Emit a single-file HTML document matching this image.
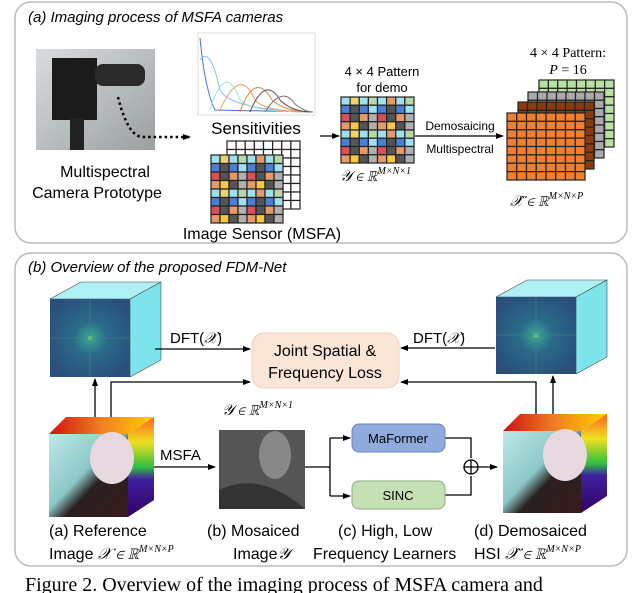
<!DOCTYPE html>
<html><head><meta charset="utf-8">
<style>
body{margin:0;background:#fff;}
svg{display:block;font-family:"Liberation Sans",sans-serif;}
.s{font-family:"Liberation Serif",serif;}
</style></head>
<body>
<svg id="g" width="640" height="593" viewBox="0 0 640 593" xmlns="http://www.w3.org/2000/svg">
<defs>
<marker id="ah" markerWidth="8" markerHeight="8" refX="7" refY="4" orient="auto" markerUnits="userSpaceOnUse"><path d="M0,1 L8,4 L0,7 z" fill="#000"/></marker>
<radialGradient id="fft" cx="50%" cy="50%" r="60%"><stop offset="0" stop-color="#d8f060"/><stop offset="0.06" stop-color="#3aa090"/><stop offset="0.35" stop-color="#2a6a8a"/><stop offset="1" stop-color="#2a4f7a"/></radialGradient>
<linearGradient id="photo" x1="0" y1="0" x2="1" y2="1"><stop offset="0" stop-color="#bfe8e8"/><stop offset="0.45" stop-color="#8cc8c8"/><stop offset="0.6" stop-color="#2a2020"/><stop offset="1" stop-color="#3a1a1a"/></linearGradient>
<linearGradient id="topf" x1="0" y1="0" x2="1" y2="0"><stop offset="0" stop-color="#d01010"/><stop offset="0.5" stop-color="#f08020"/><stop offset="1" stop-color="#ffd000"/></linearGradient>
<linearGradient id="side" x1="0" y1="0" x2="0" y2="1"><stop offset="0" stop-color="#ff6020"/><stop offset="0.25" stop-color="#f0e020"/><stop offset="0.5" stop-color="#30c040"/><stop offset="0.62" stop-color="#4020a0"/><stop offset="1" stop-color="#300060"/></linearGradient>
<linearGradient id="cam" x1="0" y1="0" x2="1" y2="1"><stop offset="0" stop-color="#d8dde0"/><stop offset="1" stop-color="#9aa0a0"/></linearGradient>
</defs>

<!-- Panel a -->
<rect x="15" y="2" width="612" height="241" rx="16" fill="#fff" stroke="#bbb" stroke-width="1.5"/>
<text x="28" y="22" font-size="15" font-style="italic">(a) Imaging process of MSFA cameras</text>
<rect x="36" y="49" width="119" height="101" fill="url(#cam)"/>
<rect x="52" y="58" width="45" height="62" fill="#1a1a1a"/>
<rect x="95" y="64" width="50" height="22" rx="8" fill="#2a2a2a"/>
<rect x="70" y="118" width="14" height="32" fill="#222"/>
<path d="M118,97 Q128,137 143,137 L190,137" fill="none" stroke="#000" stroke-width="2.5" stroke-dasharray="2.5,3" marker-end="url(#ah)"/>
<text x="105" y="177" font-size="16" text-anchor="middle">Multispectral</text>
<text x="97" y="198" font-size="16" text-anchor="middle">Camera Prototype</text>
<rect x="198" y="33" width="117" height="82" fill="#fff" stroke="#ddd"/>
<g fill="none" stroke-width="1">
<path d="M200,38 Q205,90 215,110 L313,112" stroke="#4a70d0"/>
<path d="M200,60 Q210,45 220,90 Q230,110 313,112" stroke="#80c0f0"/>
<path d="M210,110 Q225,60 240,100 Q250,112 313,112" stroke="#a0e0e0"/>
<path d="M220,110 Q240,65 255,100 Q265,112 313,112" stroke="#f0a060"/>
<path d="M240,112 Q255,70 272,100 Q285,112 313,112" stroke="#e08040"/>
<path d="M250,112 Q265,75 280,100 Q292,112 313,112" stroke="#555"/>
<path d="M265,112 Q282,85 295,104 Q305,112 313,112" stroke="#777"/>
</g>
<text x="256" y="134" font-size="17" text-anchor="middle">Sensitivities</text>
<g id="sensor"></g>
<text x="262" y="239" font-size="16" text-anchor="middle">Image Sensor (MSFA)</text>
<line x1="320" y1="136" x2="339" y2="136" stroke="#000" stroke-width="1.3" marker-end="url(#ah)"/>
<text x="382" y="76" font-size="13" text-anchor="middle">4 × 4 Pattern</text>
<text x="382" y="92" font-size="13" text-anchor="middle">for demo</text>
<g id="pat"></g>
<text x="340" y="181" class="s" font-size="15" font-style="italic">𝒴 ∈ ℝ<tspan font-size="10" dy="-7">M×N×1</tspan></text>
<line x1="415" y1="136" x2="503" y2="136" stroke="#000" stroke-width="1.3" marker-end="url(#ah)"/>
<text x="460" y="130" font-size="12" text-anchor="middle">Demosaicing</text>
<text x="460" y="153" font-size="12" text-anchor="middle">Multispectral</text>
<text x="568" y="57" class="s" font-size="14" text-anchor="middle">4 × 4 Pattern:</text>
<text x="568" y="74" class="s" font-size="14" text-anchor="middle"><tspan font-style="italic">P</tspan> = 16</text>
<g id="stack"></g>
<text x="510" y="206" class="s" font-size="15" font-style="italic">𝒳̂ ∈ ℝ<tspan font-size="10" dy="-7">M×N×P</tspan></text>

<!-- Panel b -->
<rect x="15" y="253" width="612" height="313" rx="16" fill="#fff" stroke="#bbb" stroke-width="1.5"/>
<text x="28" y="272" font-size="15" font-style="italic">(b) Overview of the proposed FDM-Net</text>
<polygon points="50,299 81,282 161,282 130,299" fill="#aef0f4" stroke="#444" stroke-width="0.6"/>
<polygon points="130,299 161,282 161,360 130,377" fill="#7ee4ec" stroke="#444" stroke-width="0.6"/>
<rect x="50" y="299" width="80" height="78" fill="url(#fft)"/>
<line x1="90" y1="299" x2="90" y2="377" stroke="#3a8a8a" stroke-width="0.6"/><line x1="50" y1="338" x2="130" y2="338" stroke="#3a8a8a" stroke-width="0.6"/>
<polygon points="496,297 527,280 607,280 576,297" fill="#aef0f4" stroke="#444" stroke-width="0.6"/>
<polygon points="576,297 607,280 607,357 576,374" fill="#7ee4ec" stroke="#444" stroke-width="0.6"/>
<rect x="496" y="297" width="80" height="77" fill="url(#fft)"/>
<line x1="536" y1="297" x2="536" y2="374" stroke="#3a8a8a" stroke-width="0.6"/><line x1="496" y1="335" x2="576" y2="335" stroke="#3a8a8a" stroke-width="0.6"/>

<rect x="252" y="333" width="147" height="55" rx="12" fill="#fbe5d6" stroke="#f0d0c0"/>
<text x="325" y="356" font-size="16" text-anchor="middle">Joint Spatial &amp;</text>
<text x="325" y="378" font-size="16" text-anchor="middle">Frequency Loss</text>
<g stroke="#000" stroke-width="1.3" fill="none">
<line x1="155" y1="349" x2="250" y2="349" marker-end="url(#ah)"/>
<line x1="495" y1="348" x2="401" y2="348" marker-end="url(#ah)"/>
<polyline points="111,417 111,382 250,382" marker-end="url(#ah)"/>
<polyline points="536,414 536,382 401,382" marker-end="url(#ah)"/>
<line x1="95" y1="417" x2="95" y2="379" marker-end="url(#ah)"/>
<line x1="553" y1="414" x2="553" y2="376" marker-end="url(#ah)"/>
<line x1="154" y1="467" x2="215" y2="467" marker-end="url(#ah)"/>
<polyline points="305,467 330,467"/>
<line x1="330" y1="438" x2="330" y2="496"/>
<line x1="330" y1="438" x2="350" y2="438" marker-end="url(#ah)"/>
<line x1="330" y1="496" x2="350" y2="496" marker-end="url(#ah)"/>
<polyline points="445,438 471,438 471,458"/>
<polyline points="445,495 471,495 471,476"/>
<circle cx="471" cy="467" r="7"/>
<line x1="464" y1="467" x2="478" y2="467"/><line x1="471" y1="460" x2="471" y2="474"/>
<line x1="478" y1="467" x2="497" y2="467" marker-end="url(#ah)"/>
</g>
<text x="170" y="343" font-size="15">DFT(<tspan class="s" font-style="italic">𝒳</tspan>)</text>
<text x="413" y="343" font-size="15">DFT(<tspan class="s" font-style="italic">𝒳</tspan>)</text>
<text x="160" y="460" font-size="15">MSFA</text>
<polygon points="49,434 66,417 154,417 128,434" fill="url(#topf)"/>
<polygon points="128,434 154,417 154,500 128,517" fill="url(#side)"/>
<rect x="49" y="434" width="79" height="83" fill="url(#photo)"/>
<ellipse cx="112" cy="458" rx="22" ry="26" fill="#e8d8e0"/>
<polygon points="503,431 520,414 607,414 581,431" fill="url(#topf)"/>
<polygon points="581,431 607,414 607,496 581,513" fill="url(#side)"/>
<rect x="503" y="431" width="78" height="82" fill="url(#photo)"/>
<ellipse cx="565" cy="455" rx="22" ry="26" fill="#e8d8e0"/>
<rect x="219" y="430" width="86" height="79" fill="#555"/>
<ellipse cx="275" cy="455" rx="16" ry="24" fill="#888"/>
<path d="M219,509 L219,490 Q260,470 305,509z" fill="#333"/>
<text x="222" y="415" class="s" font-size="15" font-style="italic">𝒴 ∈ ℝ<tspan font-size="10" dy="-7">M×N×1</tspan></text>
<rect x="352" y="424" width="93" height="28" rx="7" fill="#8faadc" stroke="#6a86b8"/>
<text x="398" y="443" font-size="13" text-anchor="middle">MaFormer</text>
<rect x="352" y="481" width="93" height="28" rx="7" fill="#c5e0b4" stroke="#8aae7a"/>
<text x="398" y="500" font-size="13" text-anchor="middle">SINC</text>
<g font-size="16">
<text x="49" y="536">(a) Reference</text>
<text x="207" y="536">(b) Mosaiced</text>
<text x="338" y="536">(c) High, Low</text>
<text x="474" y="536">(d) Demosaiced</text>
<text x="49" y="559">Image <tspan class="s" font-style="italic">𝒳 ∈ ℝ</tspan><tspan class="s" font-style="italic" font-size="10" dy="-7">M×N×P</tspan></text>
<text x="233" y="559">Image<tspan class="s" font-style="italic">𝒴</tspan></text>
<text x="313" y="559">Frequency Learners</text>
<text x="474" y="559">HSI <tspan class="s" font-style="italic">𝒳̂ ∈ ℝ</tspan><tspan class="s" font-style="italic" font-size="10" dy="-7">M×N×P</tspan></text>
</g>
<text x="25" y="591" class="s" font-size="20">Figure 2. Overview of the imaging process of MSFA camera and</text>
</svg>
<script>
var NS="http://www.w3.org/2000/svg";
function grid(g,x,y,w,h,fill){var cw=w/8,ch=h/8;for(var i=0;i<8;i++)for(var j=0;j<8;j++){var r=document.createElementNS(NS,"rect");r.setAttribute("x",x+j*cw);r.setAttribute("y",y+i*ch);r.setAttribute("width",cw);r.setAttribute("height",ch);r.setAttribute("fill",fill(i,j));r.setAttribute("stroke","#222");r.setAttribute("stroke-width","1.2");g.appendChild(r);}}
var P=[["#9de0f0","#f0d070","#9de0f0","#b8d8a8","#9de0f0","#e49a6a","#9de0f0","#b8d8a8"],["#4a7fd4","#555","#4a7fd4","#9de0f0","#4a7fd4","#555","#4a7fd4","#9de0f0"],["#d9505a","#555","#e49a6a","#b0b0b0","#d9505a","#555","#e49a6a","#b0b0b0"],["#e49a6a","#f5c842","#555","#b0b0b0","#e49a6a","#f5c842","#555","#b0b0b0"]];
function pf(i,j){return P[i%4][j];}
grid(document.getElementById("sensor"),227,141,73,68,function(){return "#fff";});
grid(document.getElementById("sensor"),211,155,72,68,pf);
grid(document.getElementById("pat"),341,97,73,66,pf);
var s=document.getElementById("stack");
grid(s,539,80,75,67,function(){return "#b8e0a0";});
grid(s,528,92,76,66,function(){return "#aaa";});
grid(s,518,102,76,67,function(){return "#8a3a10";});
grid(s,507,113,78,67,function(){return "#f08030";});
</script>
</body></html>
